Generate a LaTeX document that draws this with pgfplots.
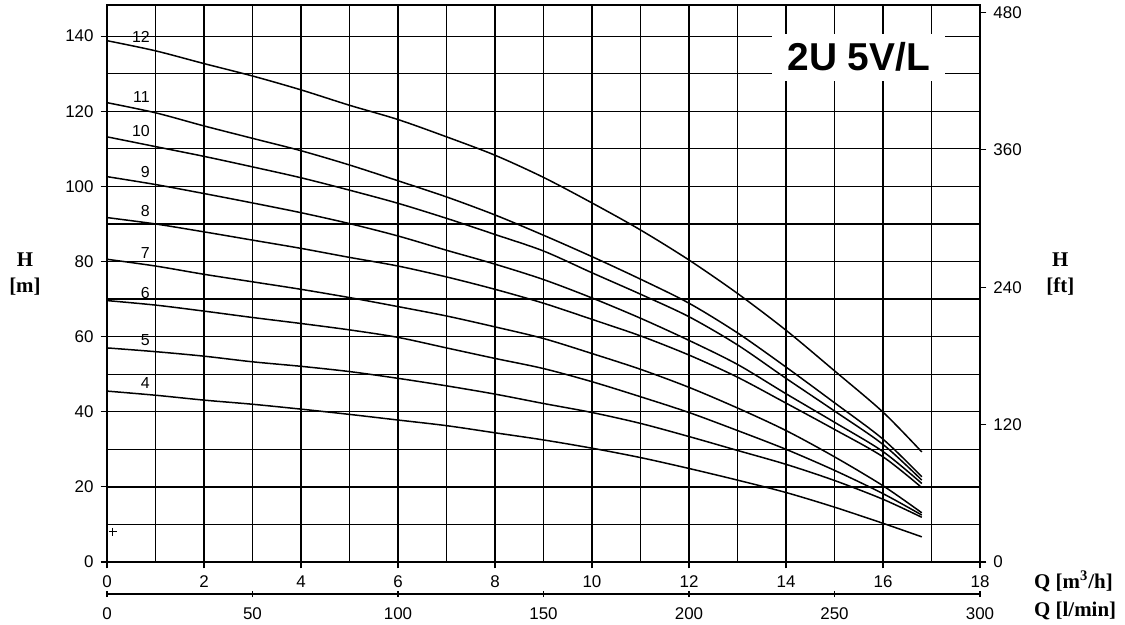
\documentclass[border=0pt]{standalone}
\usepackage{pgfplots}
\usepackage{pgfplotstable}
\pgfplotsset{compat=1.18}
\usepackage{fontspec}
\setmainfont{Liberation Sans}
\newfontfamily\labelserif{Liberation Serif}

% H [m] for each number of stages
\pgfplotstableread{
Q    h4   h5   h6   h7   h8   h9    h10   h11   h12
0    45.5 57.0 69.6 80.6 91.7 102.6 113.2 122.3 138.8
1    44.4 56.0 68.4 78.8 90.0 100.5 110.6 119.6 136.1
2    43.1 54.8 66.8 76.6 87.9 98.1  108.0 116.1 132.7
3    42.0 53.3 65.1 74.6 85.7 95.6  105.2 112.8 129.4
4    40.7 52.1 63.5 72.6 83.5 93.0  102.3 109.5 125.7
5    39.3 50.7 61.8 70.4 81.1 90.1  99.0  105.7 121.6
6    37.8 48.9 59.8 68.0 78.8 86.8  95.5  101.5 117.8
7    36.3 46.9 57.0 65.5 75.9 83.0  91.5  97.2  113.2
8    34.4 44.7 54.2 62.6 72.6 79.3  87.2  92.4  108.3
9    32.5 42.2 51.5 59.5 68.9 75.2  82.8  87.0  102.4
10   30.3 39.8 48.0 55.5 64.6 70.3  77.0  81.3  95.6
11   27.8 36.9 44.0 51.3 60.2 64.9  71.3  75.3  88.4
12   24.9 33.4 39.8 46.5 55.1 59.0  65.3  68.9  80.4
13   21.8 29.7 35.0 41.0 49.2 52.6  57.8  61.0  71.5
14   18.5 26.0 30.0 35.0 42.3 44.8  48.9  51.9  61.7
15   14.6 21.7 24.4 28.0 35.3 37.2  40.2  42.4  50.9
16   10.3 16.7 18.2 20.3 28.0 29.4  31.3  32.7  39.9
16.8 6.7  11.9 12.5 13.1 19.8 20.9  21.8  22.7  29.3
}\curves

\tikzset{
stagelabel/.style={anchor=east, inner sep=0pt, font=\fontsize{8}{9}\selectfont},
unitlabel/.style={font=\labelserif\fontsize{10.5}{13}\bfseries\selectfont},
}

\begin{document}
\begin{tikzpicture}
\path[use as bounding box] (-53.5bp,-31.5bp) rectangle (509bp,281bp);

\pgfplotsset{
every axis/.append style={
width=436.5bp,
height=278.5bp,
scale only axis,
tick align=outside,
major tick length=3.2bp,
minor tick length=0pt,
tick style={black, line width=0.6bp},
ticklabel style={font=\fontsize{8.5}{10}\selectfont},
/pgf/number format/assume math mode=true,
axis line style={-, line width=1.1bp},
},
}

% l/min scale under the main axis
\begin{axis}[
at={(0,-16bp)},
height=10bp,
xmin=0, xmax=300,
ymin=0, ymax=1,
axis x line=bottom,
axis y line=none,
x axis line style={-},
every outer x axis line/.append style={-},
every inner x axis line/.append style={-},
xtick={0,50,...,300},
xticklabel shift=1.5bp,
]
\end{axis}

% ft scale on the right
\begin{axis}[
xmin=0, xmax=1,
ymin=0, ymax=486.5,
axis y line*=right,
axis x line=none,
y axis line style={-},
ytick={0,120,...,480},
]
\end{axis}

\begin{axis}[
xmin=0, xmax=18,
ymin=0, ymax=148.3,
xtick={0,2,...,18},
minor xtick={1,3,...,17},
ytick={0,20,...,140},
minor ytick={10,30,...,130},
xtick pos=bottom,
ytick pos=left,
grid=both,
grid style={black, line width=0.65bp},
major grid style={black, line width=0.65bp},
minor grid style={black, line width=0.65bp},
clip=false,
]
\pgfplotsinvokeforeach{h4,h5,h6,h7,h8,h9,h10,h11,h12}{
\addplot[black, line width=0.75bp, smooth, tension=0.5] table[x=Q, y=#1] {\curves};
}
\addplot[only marks, mark=+, mark size=2bp, black, mark options={line width=0.5bp}] coordinates {(0.12,8)};

\node[stagelabel] at (axis cs:0.89,139.7) {12};
\node[stagelabel] at (axis cs:0.89,123.8) {11};
\node[stagelabel] at (axis cs:0.89,114.7) {10};
\node[stagelabel] at (axis cs:0.89,103.8) {9};
\node[stagelabel] at (axis cs:0.89,93.4) {8};
\node[stagelabel] at (axis cs:0.89,82.2) {7};
\node[stagelabel] at (axis cs:0.89,71.6) {6};
\node[stagelabel] at (axis cs:0.89,59.1) {5};
\node[stagelabel] at (axis cs:0.89,47.6) {4};

\node[fill=white, inner xsep=7.5bp, inner ysep=0pt, minimum height=23.5bp,
font=\fontsize{19.5}{20}\bfseries\selectfont] at (axis cs:15.5,134.4) {2U 5V/L};

\node[unitlabel, align=center] at (rel axis cs:-0.094,0.517) {H\\{}[m]};
\node[unitlabel, align=center] at (rel axis cs:1.092,0.517) {H\\{}[ft]};
\node[unitlabel, anchor=west] at (rel axis cs:1.054,-0.034) {Q [m\textsuperscript{3}/h]};
\node[unitlabel, anchor=west] at (rel axis cs:1.054,-0.087) {Q [l/min]};
\end{axis}
\end{tikzpicture}
\end{document}
